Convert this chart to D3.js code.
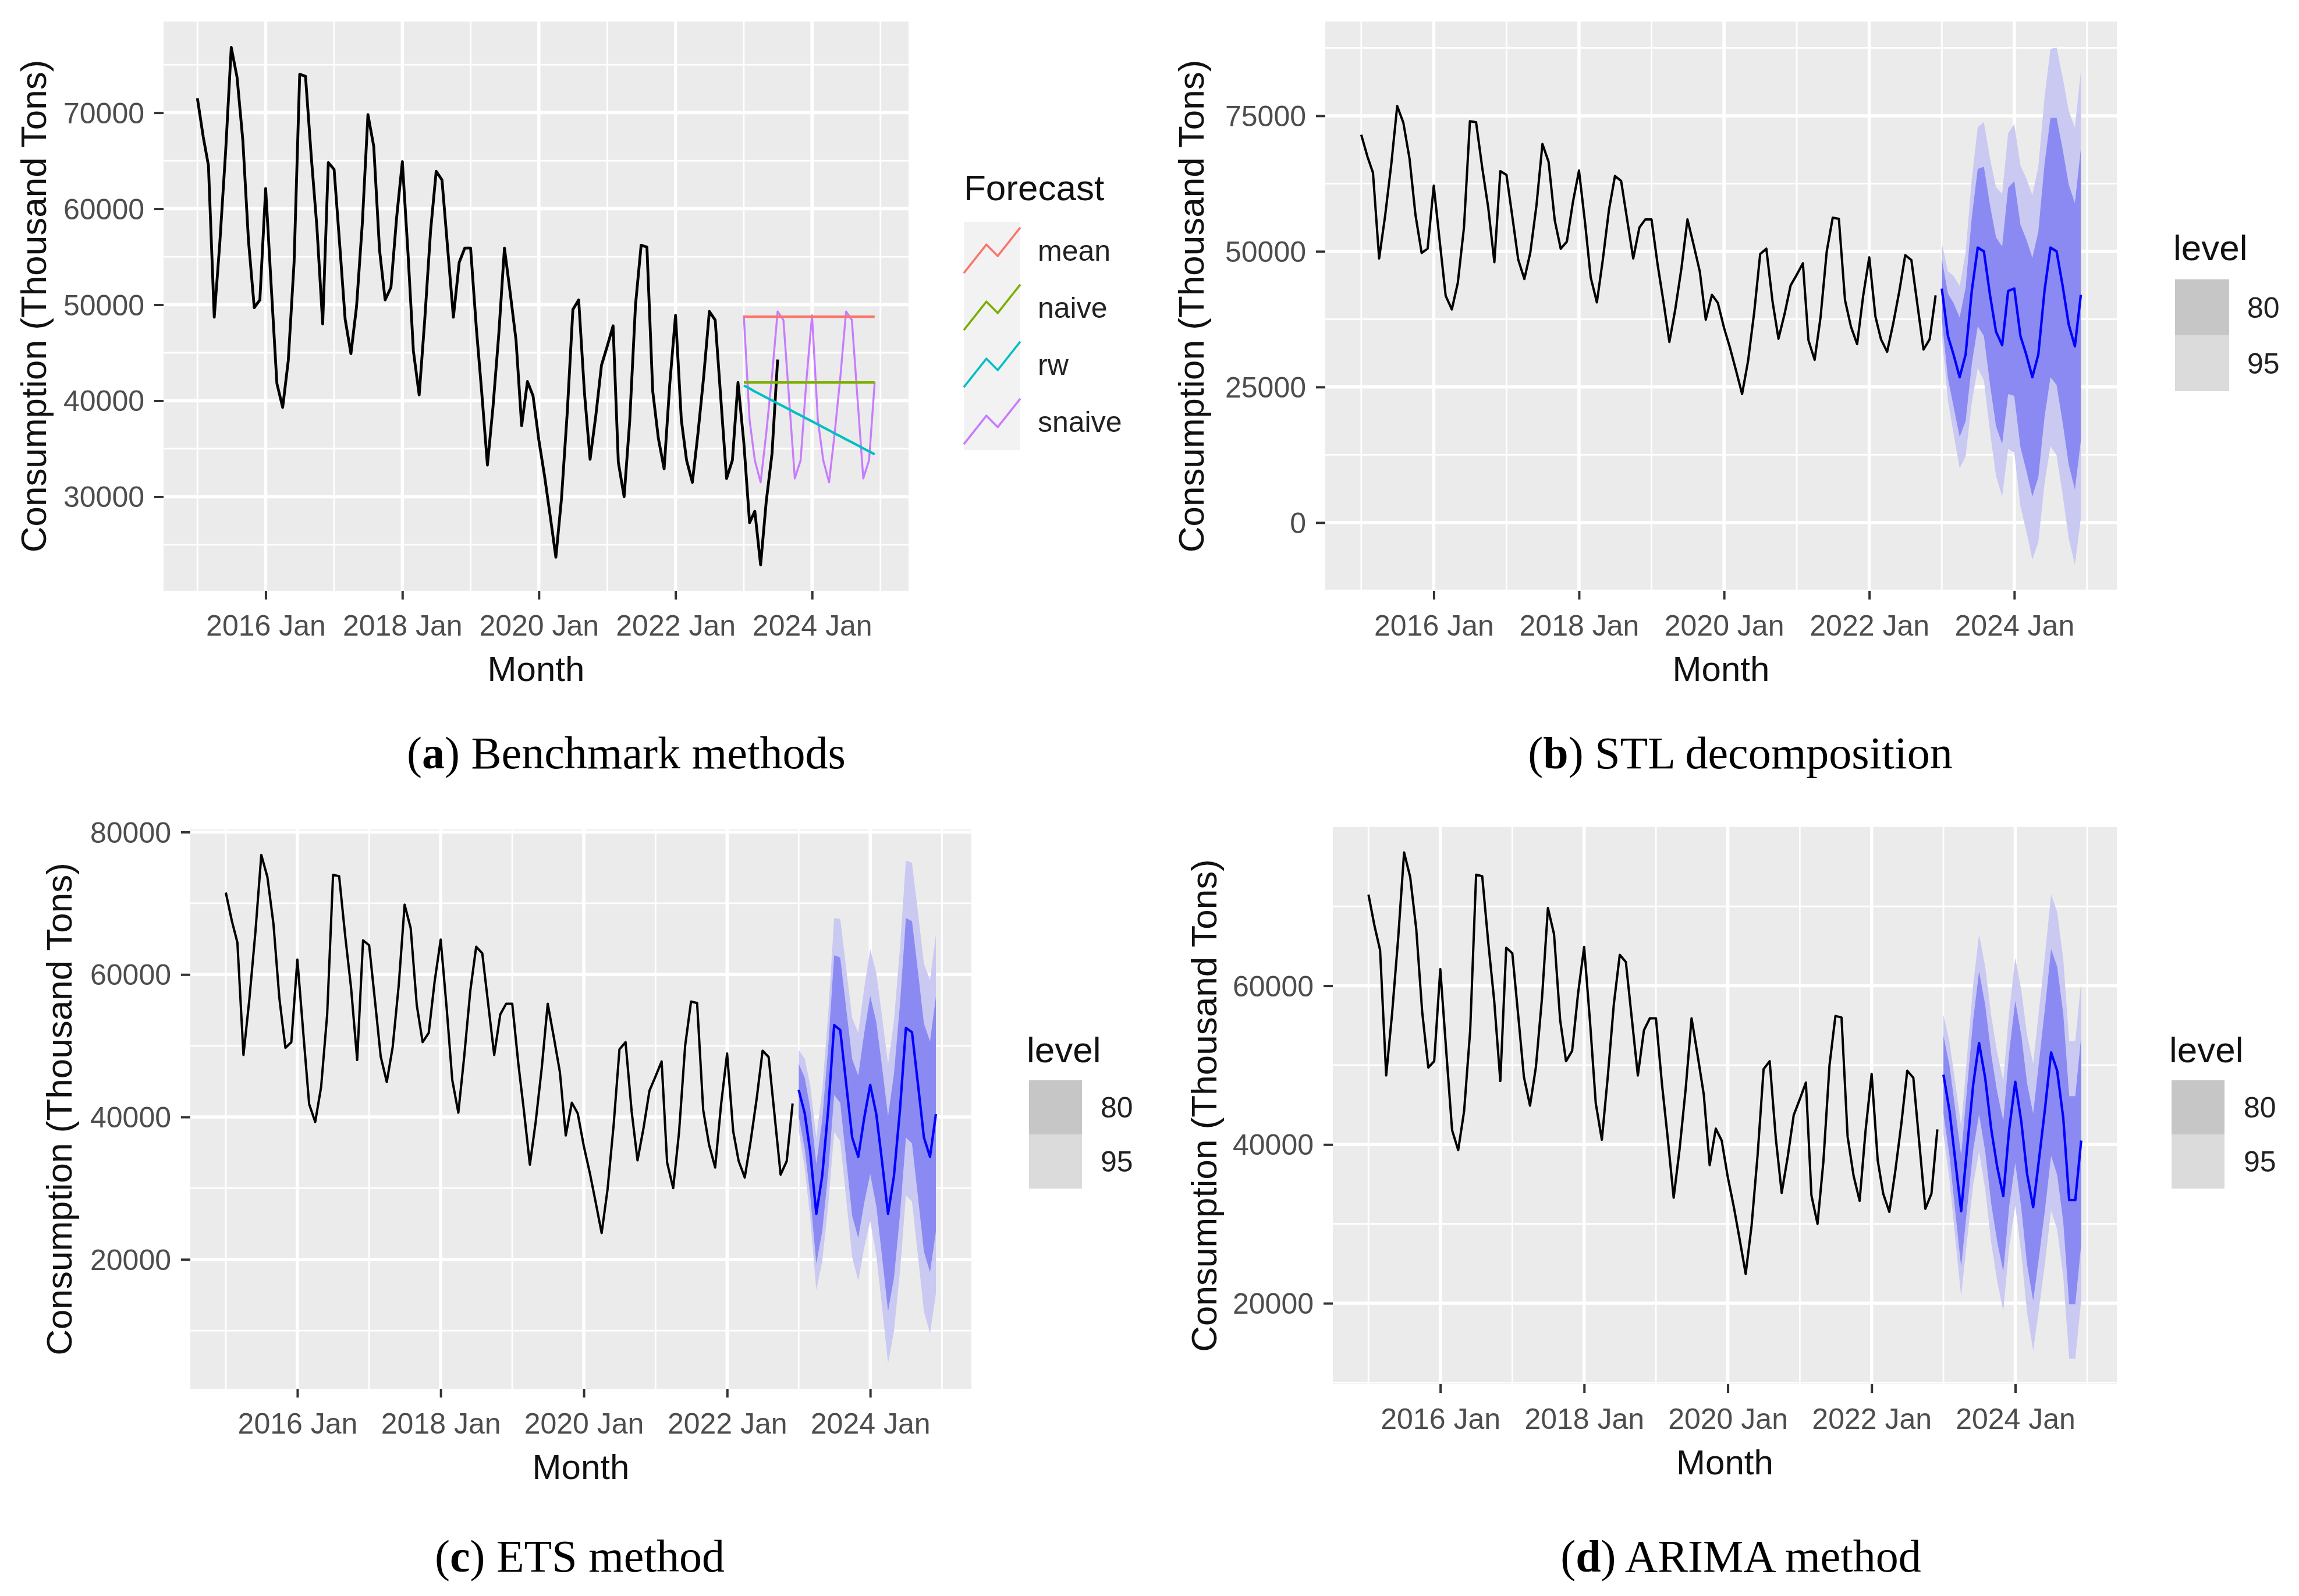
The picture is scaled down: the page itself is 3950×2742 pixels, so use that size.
<!DOCTYPE html>
<html><head><meta charset="utf-8">
<script src="https://cdn.jsdelivr.net/npm/d3@7"></script>
<style>
body{margin:0;background:#fff;}
svg{display:block;}
</style>
</head><body>
<svg id="chart" width="3950" height="2742" font-family="'Liberation Sans', Arial, sans-serif"></svg>
<script>
// ---------------- DATA ----------------
// Monthly consumption (thousand tons), 2015 Jan .. 2022 Dec (training)
const trainValues = [
 71500, 67500, 64500, 48700, 56500, 66000, 76800, 73700, 67100, 56700, 49700, 50500,
 62100, 51500, 41800, 39300, 44200, 54400, 74000, 73800, 65400, 58100, 48000, 64800,
 64100, 56000, 48500, 44900, 49800, 58500, 69800, 66500, 55700, 50500, 51800, 59000,
 64900, 55100, 45200, 40600, 48500, 57700, 63900, 63000, 55700, 48700, 54400, 55900,
 55900, 47500, 41000, 33300, 39400, 47000, 55900, 51200, 46300, 37400, 42000, 40500,
 35900, 32100, 28100, 23700, 29800, 38800, 49500, 50500, 40800, 33900, 38500, 43700,
 45700, 47800, 33600, 30000, 37900, 50000, 56200, 56000, 41000, 36100, 32900, 41700,
 48900, 38000, 33800, 31500, 36600, 42600, 49300, 48400, 40000, 31900, 33800, 41900
];
// Observed 2023 Jan .. 2023 Jul (shown in panel a)
const testValues = [35700, 27300, 28500, 22900, 29500, 34500, 44300];

// Benchmark forecasts 2023 Jan .. 2024 Dec
const forecastSeries = ["mean", "naive", "rw", "snaive"];
const meanForecast = [48750,48750,48750,48750,48750,48750,48750,48750,48750,48750,48750,48750,
                      48750,48750,48750,48750,48750,48750,48750,48750,48750,48750,48750,48750];
const naiveForecast = [41900,41900,41900,41900,41900,41900,41900,41900,41900,41900,41900,41900,
                       41900,41900,41900,41900,41900,41900,41900,41900,41900,41900,41900,41900];
const rwForecast = [41590,41280,40960,40650,40340,40030,39720,39410,39100,38780,38470,38160,
                    37850,37540,37230,36920,36600,36290,35980,35670,35360,35040,34730,34420];
const snaiveForecast = [48900,38000,33800,31500,36600,42600,49300,48400,40000,31900,33800,41900,
                        48900,38000,33800,31500,36600,42600,49300,48400,40000,31900,33800,41900];

// STL decomposition forecast (point + half widths of 80% / 95% intervals)
const stlMean = [43150,34400,31000,26800,31000,42700,50700,50000,41900,35200,32700,42700,
                 43150,34400,31000,26800,31000,42700,50700,50000,43500,36500,32500,42000];
const stlHalf80 = [5500,7800,9500,11000,12300,13500,14500,15600,16500,17400,18200,19000,
                   19800,20500,21300,22000,22600,23300,23900,24600,25200,25800,26400,26900];
const stlHalf95 = [8400,11900,14500,16800,18800,20600,22200,23800,25200,26600,27900,29100,
                   30300,31400,32500,33600,34600,35600,36600,37600,38500,39400,40300,41200];

// ETS forecast
const etsMean = [43800,40500,35100,26400,31700,41100,52900,52200,44500,37100,34400,39800,
                 44500,40400,33800,26400,31700,41100,52500,51900,44500,37100,34400,40400];
const etsHalf80 = [3700,5000,6100,7000,7800,8800,9800,10200,10600,11000,11400,11900,
                   12500,12900,13300,13700,14300,14800,15400,15600,15800,16000,16200,16500];
const etsHalf95 = [5600,7700,9300,10700,12000,13500,15000,15600,16200,16800,17400,18200,
                   19100,19800,20400,21000,21800,22700,23500,23800,24100,24400,24800,25200];

// ARIMA forecast
const arimaMean = [48800,44200,38200,31600,39500,47500,52800,48400,41900,37200,33500,41900,
                   47900,42800,36300,32100,38200,44700,51600,49300,43300,33000,33000,40500];
const arimaHalf80 = [4900,5700,6400,7000,7600,8200,9000,9200,9400,9400,9500,9700,
                     10200,10900,11400,11800,12300,12700,13000,13100,13100,13100,13100,13100];
const arimaHalf95 = [7500,8700,9800,10700,11600,12600,13700,14000,14300,14400,14500,14800,
                     15600,16600,17500,18100,18800,19400,19900,20000,20000,20000,20000,20100];

// Axis tick labels
const xTickLabels = ["2016 Jan", "2018 Jan", "2020 Jan", "2022 Jan", "2024 Jan"];
const yTicksA = [30000, 40000, 50000, 60000, 70000];
const yTicksB = [0, 25000, 50000, 75000];
const yTicksC = [20000, 40000, 60000, 80000];
const yTicksD = [20000, 40000, 60000];
const levelLabels = ["80", "95"];
const yTitle = "Consumption (Thousand Tons)";
const xTitle = "Month";
const captions = [
  {letter: "a", text: " Benchmark methods"},
  {letter: "b", text: " STL decomposition"},
  {letter: "c", text: " ETS method"},
  {letter: "d", text: " ARIMA method"}
];

// ---------------- STYLE / LAYOUT ----------------
const seriesColors = {mean: "#F8766D", naive: "#7CAE00", rw: "#00BFC4", snaive: "#C77CFF"};
const band95 = "#C9C9F2", band80 = "#8A8AF2", fcBlue = "#0000FF";
const keyGrey = {"80": "#C6C6C6", "95": "#DBDBDB"};
const SANS = "'Liberation Sans', Arial, sans-serif";
const SERIF = "'Liberation Serif', 'Times New Roman', serif";

const layouts = {
  a: {x0: 281, x1: 1561, y0: 37, y1: 1015, yTitleX: 57, capX: 1076, capY: 1320, ticks: yTicksA, lw: 4.8,
      legend: {title: "Forecast", titleX: 1656, titleY: 344, keyX: 1656, keyW: 97, keyH: 98, keyY0: 381, labelX: 1783}},
  b: {x0: 2277, x1: 3637, y0: 37, y1: 1015, yTitleX: 2046, capX: 2990, capY: 1320, ticks: yTicksB, lw: 4,
      legend: {title: "level", titleX: 3734, titleY: 447, keyX: 3737, keyW: 93, keyH: 96, keyY0: 480, labelX: 3861}},
  c: {x0: 327, x1: 1669, y0: 1425, y1: 2386, yTitleX: 101, capX: 996, capY: 2700, ticks: yTicksC, lw: 4,
      legend: {title: "level", titleX: 1764, titleY: 1825, keyX: 1768, keyW: 91, keyH: 93, keyY0: 1856, labelX: 1891}},
  d: {x0: 2290, x1: 3637, y0: 1421, y1: 2378, yTitleX: 2068, capX: 2991, capY: 2700, ticks: yTicksD, lw: 4,
      legend: {title: "level", titleX: 3727, titleY: 1825, keyX: 3731, keyW: 91, keyH: 93, keyY0: 1856, labelX: 3855}}
};

// ---------------- HELPERS ----------------
const svg = d3.select("#chart");
svg.append("rect").attr("width", 3950).attr("height", 2742).attr("fill", "#ffffff");

const startDate = new Date(2015, 0, 1);
const monthDates = (offset, n) => d3.range(n).map(k => d3.timeMonth.offset(startDate, offset + k));
const trainDates = monthDates(0, trainValues.length);
const fullDates = monthDates(0, trainValues.length + testValues.length);
const fullValues = trainValues.concat(testValues);
const fcDates = monthDates(trainValues.length, 24);
const endDate = fcDates[fcDates.length - 1];
const tSpan = endDate - startDate;
const xDomain = [new Date(+startDate - 0.05 * tSpan), new Date(+endDate + 0.05 * tSpan)];
const parseLabel = d3.timeParse("%Y %b");
const xMajor = xTickLabels.map(parseLabel);

function expand(ext) { const r = ext[1] - ext[0]; return [ext[0] - 0.05 * r, ext[1] + 0.05 * r]; }

function makePanel(key, yExtentValues) {
  const L = layouts[key];
  const x = d3.scaleTime().domain(xDomain).range([L.x0, L.x1]);
  const y = d3.scaleLinear().domain(expand(d3.extent(yExtentValues))).range([L.y1, L.y0]);
  const g = svg.append("g");
  g.append("rect").attr("x", L.x0).attr("y", L.y0).attr("width", L.x1 - L.x0).attr("height", L.y1 - L.y0)
    .attr("fill", "#EBEBEB");
  const yd = y.domain();
  const step = L.ticks[1] - L.ticks[0];
  const yMinor = d3.range(L.ticks[0] - step * 1.5, L.ticks[L.ticks.length - 1] + step * 1.01, step)
    .filter(v => v > yd[0] && v < yd[1] && !L.ticks.includes(v));
  const xMinor = xMajor.map(d => d3.timeYear.offset(d, -1)).concat([d3.timeYear.offset(xMajor[xMajor.length - 1], 1)])
    .filter(d => d > xDomain[0] && d < xDomain[1]);
  // minor grid
  g.selectAll(null).data(yMinor).enter().append("line")
    .attr("x1", L.x0).attr("x2", L.x1).attr("y1", d => y(d)).attr("y2", d => y(d))
    .attr("stroke", "#fff").attr("stroke-width", 2.8);
  g.selectAll(null).data(xMinor).enter().append("line")
    .attr("y1", L.y0).attr("y2", L.y1).attr("x1", d => x(d)).attr("x2", d => x(d))
    .attr("stroke", "#fff").attr("stroke-width", 2.8);
  // major grid
  g.selectAll(null).data(L.ticks).enter().append("line")
    .attr("x1", L.x0).attr("x2", L.x1).attr("y1", d => y(d)).attr("y2", d => y(d))
    .attr("stroke", "#fff").attr("stroke-width", 5.5);
  g.selectAll(null).data(xMajor).enter().append("line")
    .attr("y1", L.y0).attr("y2", L.y1).attr("x1", d => x(d)).attr("x2", d => x(d))
    .attr("stroke", "#fff").attr("stroke-width", 5.5);
  // clip
  svg.append("clipPath").attr("id", "clip-" + key).append("rect")
    .attr("x", L.x0).attr("y", L.y0).attr("width", L.x1 - L.x0).attr("height", L.y1 - L.y0);
  const data = g.append("g").attr("clip-path", "url(#clip-" + key + ")");
  // y axis
  const yAxis = g.append("g").attr("transform", `translate(${L.x0},0)`)
    .call(d3.axisLeft(y).tickValues(L.ticks).tickSize(16).tickPadding(17).tickFormat(d3.format("d")));
  yAxis.select(".domain").remove();
  yAxis.selectAll(".tick line").attr("stroke", "#333333").attr("stroke-width", 4);
  yAxis.selectAll(".tick text").attr("fill", "#4D4D4D").attr("font-size", 50)
    .style("font-family", SANS).attr("dy", "0.35em");
  // x axis
  const xAxis = g.append("g").attr("transform", `translate(0,${L.y1})`)
    .call(d3.axisBottom(x).tickValues(xMajor).tickSize(15).tickPadding(26).tickFormat(d3.timeFormat("%Y %b")));
  xAxis.select(".domain").remove();
  xAxis.selectAll(".tick line").attr("stroke", "#333333").attr("stroke-width", 4);
  xAxis.selectAll(".tick text").attr("fill", "#4D4D4D").attr("font-size", 50)
    .style("font-family", SANS).attr("dy", "0.71em");
  // titles
  g.append("text").attr("x", (L.x0 + L.x1) / 2).attr("y", L.y1 + 133 + 22).attr("text-anchor", "middle")
    .attr("font-size", 60).attr("fill", "#111").style("font-family", SANS).text(xTitle);
  g.append("text").attr("transform", `translate(${L.yTitleX + 22},${(L.y0 + L.y1) / 2}) rotate(-90)`)
    .attr("text-anchor", "middle").attr("font-size", 62).attr("fill", "#111").style("font-family", SANS).text(yTitle);
  return {x, y, g, data, L};
}

function drawLine(target, dates, values, color, width) {
  const line = d3.line().x((d, i) => target.x(dates[i])).y(d => target.y(d));
  target.data.append("path").datum(values).attr("d", line).attr("fill", "none")
    .attr("stroke", color).attr("stroke-width", width).attr("stroke-linejoin", "round");
}
function drawBand(target, mean, half, color) {
  const area = d3.area().x((d, i) => target.x(fcDates[i]))
    .y0((d, i) => target.y(d - half[i])).y1((d, i) => target.y(d + half[i]));
  target.data.append("path").datum(mean).attr("d", area).attr("fill", color).attr("stroke", "none");
}
function levelLegend(P) {
  const Lg = P.L.legend;
  P.g.append("text").attr("x", Lg.titleX).attr("y", Lg.titleY).attr("font-size", 62).attr("fill", "#111")
    .style("font-family", SANS).text(Lg.title);
  levelLabels.forEach((lv, k) => {
    const ky = Lg.keyY0 + k * Lg.keyH;
    P.g.append("rect").attr("x", Lg.keyX).attr("y", ky).attr("width", Lg.keyW).attr("height", Lg.keyH).attr("fill", keyGrey[lv]);
    P.g.append("text").attr("x", Lg.labelX).attr("y", ky + Lg.keyH / 2).attr("dy", "0.35em")
      .attr("font-size", 50).attr("fill", "#222").style("font-family", SANS).text(lv);
  });
}
function caption(P, c) {
  const t = P.g.append("text").attr("x", P.L.capX).attr("y", P.L.capY).attr("text-anchor", "middle")
    .style("font-family", SERIF).attr("font-size", 78).attr("fill", "#000");
  t.append("tspan").text("(");
  t.append("tspan").attr("font-weight", "bold").text(c.letter);
  t.append("tspan").text(")" + c.text);
}

// ---------------- PANEL A ----------------
const pa = makePanel("a", fullValues.concat(meanForecast, naiveForecast, rwForecast, snaiveForecast));
drawLine(pa, fullDates, fullValues, "#000", pa.L.lw);
const fcMap = {mean: meanForecast, naive: naiveForecast, rw: rwForecast, snaive: snaiveForecast};
["snaive", "mean", "naive", "rw"].forEach(s => drawLine(pa, fcDates, fcMap[s], seriesColors[s], s === "snaive" ? 3.4 : 4.2));
{
  const Lg = pa.L.legend;
  pa.g.append("text").attr("x", Lg.titleX).attr("y", Lg.titleY).attr("font-size", 62).attr("fill", "#111")
    .style("font-family", SANS).text(Lg.title);
  forecastSeries.forEach((s, k) => {
    const ky = Lg.keyY0 + k * Lg.keyH;
    pa.g.append("rect").attr("x", Lg.keyX).attr("y", ky).attr("width", Lg.keyW).attr("height", Lg.keyH).attr("fill", "#F2F2F2");
    const pts = [[0, 0.1], [0.4, 0.6], [0.6, 0.4], [1, 0.9]].map(p => [Lg.keyX + p[0] * Lg.keyW, ky + (1 - p[1]) * Lg.keyH]);
    pa.g.append("path").attr("d", d3.line()(pts)).attr("fill", "none").attr("stroke", seriesColors[s])
      .attr("stroke-width", 3.6).attr("stroke-linejoin", "round");
    pa.g.append("text").attr("x", Lg.labelX).attr("y", ky + Lg.keyH / 2).attr("dy", "0.35em")
      .attr("font-size", 50).attr("fill", "#222").style("font-family", SANS).text(s);
  });
}
caption(pa, captions[0]);

// ---------------- PANELS B, C, D ----------------
function fcPanel(key, mean, h80, h95, cap) {
  const lo = mean.map((m, i) => m - h95[i]), hi = mean.map((m, i) => m + h95[i]);
  const P = makePanel(key, trainValues.concat(lo, hi));
  drawBand(P, mean, h95, band95);
  drawBand(P, mean, h80, band80);
  drawLine(P, trainDates, trainValues, "#000", P.L.lw);
  drawLine(P, fcDates, mean, fcBlue, 4.2);
  levelLegend(P);
  caption(P, cap);
}
fcPanel("b", stlMean, stlHalf80, stlHalf95, captions[1]);
fcPanel("c", etsMean, etsHalf80, etsHalf95, captions[2]);
fcPanel("d", arimaMean, arimaHalf80, arimaHalf95, captions[3]);
</script>
</body></html>
